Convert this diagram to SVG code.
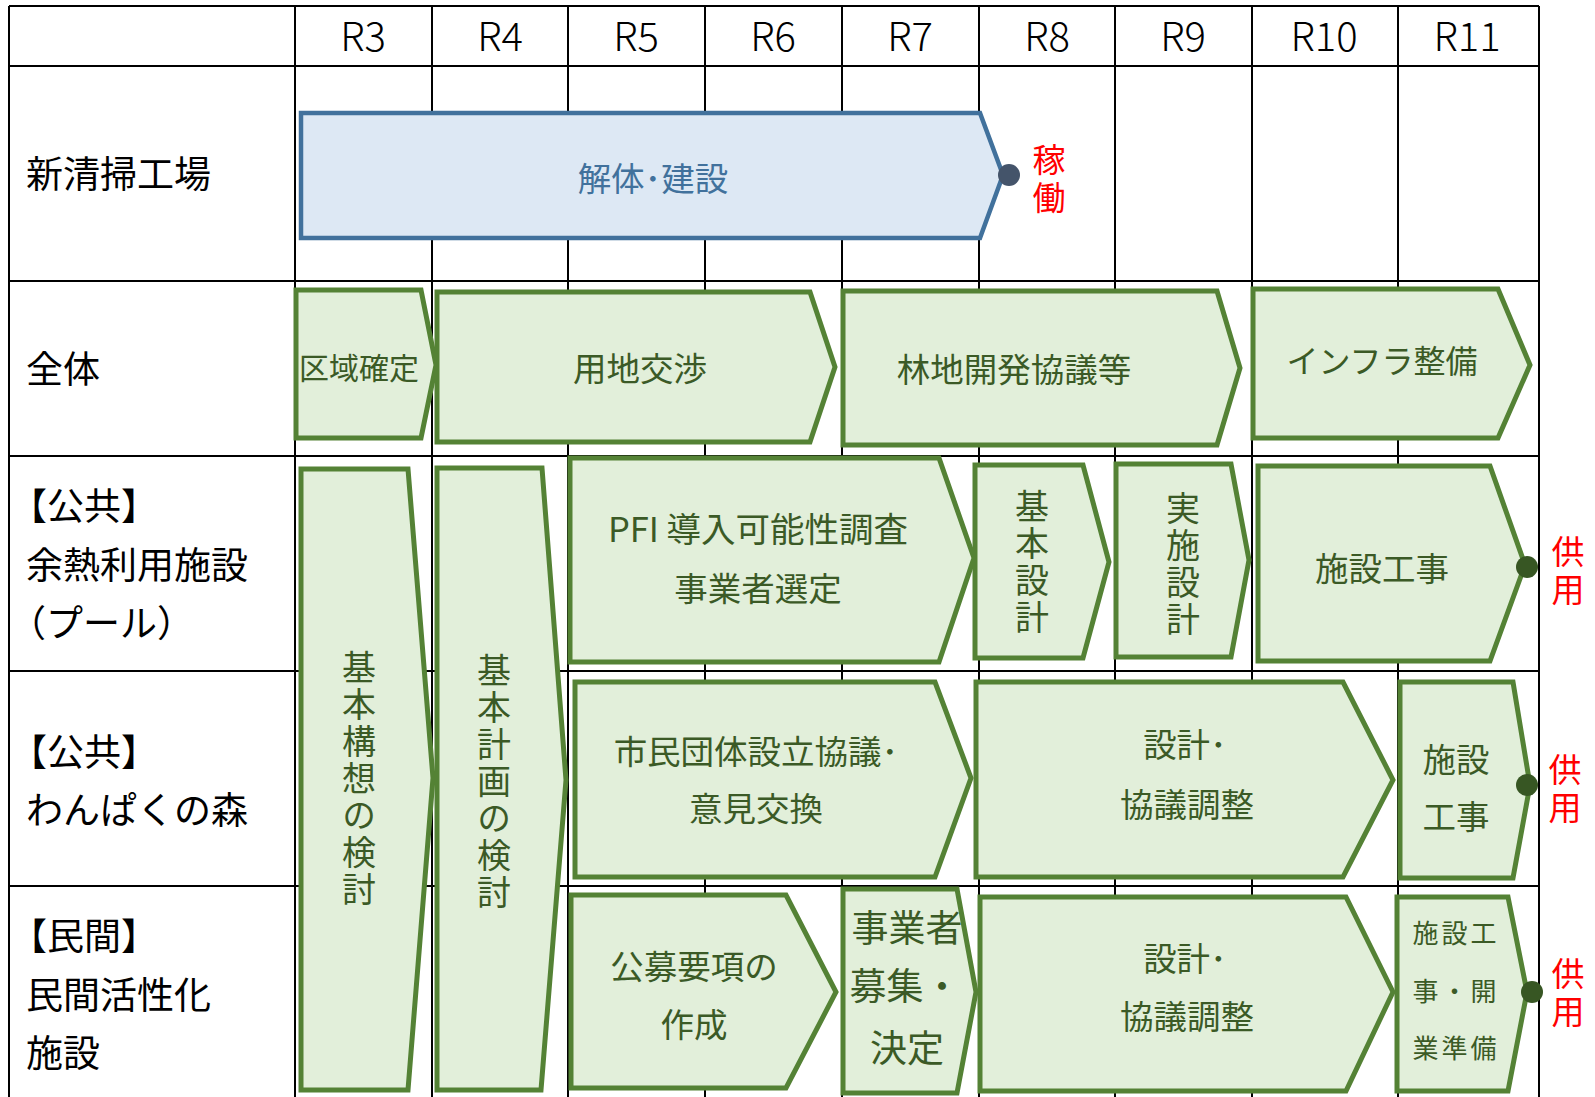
<svg xmlns="http://www.w3.org/2000/svg" width="1595" height="1097" viewBox="0 0 1595 1097">
<style>
.grid line{stroke:#000;stroke-width:2}
.g{fill:#e2efda;stroke:#548235;stroke-width:5;stroke-linejoin:miter}
.b{fill:#dde8f4;stroke:#41719c;stroke-width:4.5}
text{font-family:"Noto Sans CJK JP","Noto Sans",sans-serif}
.t{fill:#3b5a26;text-anchor:middle;dominant-baseline:central;font-size:33.5px}
.h{fill:#000;text-anchor:middle;dominant-baseline:central;font-size:40px;font-weight:300}
.l{fill:#000;dominant-baseline:central;font-size:37px}
.r{fill:#ff0000;text-anchor:middle;font-size:33px;writing-mode:vertical-rl;letter-spacing:5px}
.v{fill:#3b5a26;text-anchor:middle;font-size:34px;writing-mode:vertical-rl;letter-spacing:3px}
.dg{fill:#375623}
</style>
<rect width="1595" height="1097" fill="#fff"/>
<g class="grid" id="grid">
<line x1="9" y1="6" x2="1539" y2="6"/>
<line x1="9" y1="66" x2="1539" y2="66"/>
<line x1="9" y1="281" x2="1539" y2="281"/>
<line x1="9" y1="456" x2="1539" y2="456"/>
<line x1="9" y1="671" x2="1539" y2="671"/>
<line x1="9" y1="886" x2="1539" y2="886"/>
<line x1="9" y1="6" x2="9" y2="1097"/>
<line x1="295" y1="6" x2="295" y2="1097"/>
<line x1="432" y1="6" x2="432" y2="1097"/>
<line x1="568" y1="6" x2="568" y2="1097"/>
<line x1="705" y1="6" x2="705" y2="1097"/>
<line x1="842" y1="6" x2="842" y2="1097"/>
<line x1="979" y1="6" x2="979" y2="1097"/>
<line x1="1115" y1="6" x2="1115" y2="1097"/>
<line x1="1252" y1="6" x2="1252" y2="1097"/>
<line x1="1398" y1="6" x2="1398" y2="1097"/>
<line x1="1539" y1="6" x2="1539" y2="1097"/>
</g>
<g id="header">
<text class="h" x="363" y="34">R3</text>
<text class="h" x="500" y="34">R4</text>
<text class="h" x="636" y="34">R5</text>
<text class="h" x="773" y="34">R6</text>
<text class="h" x="910" y="34">R7</text>
<text class="h" x="1047" y="34">R8</text>
<text class="h" x="1183" y="34">R9</text>
<text class="h" x="1324" y="34">R10</text>
<text class="h" x="1467" y="34">R11</text>
</g>
<g id="row-labels">
<text class="l" x="26" y="172">新清掃工場</text>
<text class="l" x="26" y="367">全体</text>
<text class="l" x="10" y="504">【公共】</text>
<text class="l" x="26" y="563">余熱利用施設</text>
<text class="l" x="9" y="621">（プール）</text>
<text class="l" x="10" y="750">【公共】</text>
<text class="l" x="26" y="808">わんぱくの森</text>
<text class="l" x="10" y="934">【民間】</text>
<text class="l" x="26" y="993">民間活性化</text>
<text class="l" x="26" y="1051">施設</text>
</g>
<g id="n-kaitai">
<polygon class="b" points="301,113 980,113 1003,175 980,238 301,238"/>
<text class="t" x="653" y="176" style="fill:#41719c">解体･建設</text>
</g>
<g id="n-kuiki">
<polygon class="g" points="296,290 421,290 436,365 421,438 296,438"/>
<text class="t" x="359" y="366" style="font-size:30px">区域確定</text>
</g>
<g id="n-youchi">
<polygon class="g" points="437,292 810,292 835,367 810,442 437,442"/>
<text class="t" x="640" y="366">用地交渉</text>
</g>
<g id="n-rinchi">
<polygon class="g" points="843,291 1217,291 1240,368 1217,445 843,445"/>
<text class="t" x="1014" y="367">林地開発協議等</text>
</g>
<g id="n-infra">
<polygon class="g" points="1253,289 1498,289 1530,365 1498,438 1253,438"/>
<text class="t" x="1382" y="359" style="font-size:32px">インフラ整備</text>
</g>
<g id="n-kihonkousou">
<polygon class="g" points="301,469 408,469 433,778 408,1090 301,1090"/>
<text class="v" x="359" y="780">基本構想の検討</text>
</g>
<g id="n-kihonkeikaku">
<polygon class="g" points="437,468 542,468 566,780 541,1090 437,1090"/>
<text class="v" x="494" y="783">基本計画の検討</text>
</g>
<g id="n-pfi">
<polygon class="g" points="570,458 939,458 974,558 939,662 570,662"/>
<text class="t" x="758" y="527" style="font-size:34.5px">PFI 導入可能性調査</text>
<text class="t" x="758" y="586">事業者選定</text>
</g>
<g id="n-kihonsekkei">
<polygon class="g" points="975,465 1083,465 1109,562 1083,658 975,658"/>
<text class="v" x="1032" y="563">基本設計</text>
</g>
<g id="n-jissisekkei">
<polygon class="g" points="1116,464 1231,464 1249,560 1231,657 1116,657"/>
<text class="v" x="1183" y="565">実施設計</text>
</g>
<g id="n-pool-kouji">
<polygon class="g" points="1258,466 1490,466 1525,565 1490,661 1258,661"/>
<text class="t" x="1382" y="566">施設工事</text>
</g>
<g id="n-shimin">
<polygon class="g" points="575,682 935,682 971,778 935,877 575,877"/>
<text class="t" x="756" y="749">市民団体設立協議･</text>
<text class="t" x="756" y="806">意見交換</text>
</g>
<g id="n-wanpaku-sekkei">
<polygon class="g" points="976,682 1343,682 1393,780 1343,877 976,877"/>
<text class="t" x="1185" y="742">設計･</text>
<text class="t" x="1187" y="802">協議調整</text>
</g>
<g id="n-wanpaku-kouji">
<polygon class="g" points="1400,682 1513,682 1530,785 1513,878 1400,878"/>
<text class="t" x="1456" y="757">施設</text>
<text class="t" x="1456" y="814">工事</text>
</g>
<g id="n-koubo">
<polygon class="g" points="571,895 786,895 836,992 786,1088 571,1088"/>
<text class="t" x="694" y="964">公募要項の</text>
<text class="t" x="694" y="1022">作成</text>
</g>
<g id="n-jigyousha">
<polygon class="g" points="843,889 957,889 976,992 957,1093 843,1093"/>
<text class="t" x="907" y="926" style="font-size:37px">事業者</text>
<text class="t" x="905" y="984" style="font-size:37px">募集・</text>
<text class="t" x="907" y="1046" style="font-size:37px">決定</text>
</g>
<g id="n-minkan-sekkei">
<polygon class="g" points="980,897 1346,897 1393,992 1346,1091 980,1091"/>
<text class="t" x="1185" y="956">設計･</text>
<text class="t" x="1187" y="1014">協議調整</text>
</g>
<g id="n-minkan-kouji">
<polygon class="g" points="1397,897 1508,897 1527,992 1508,1091 1397,1091"/>
<text class="t" x="1456" y="931" style="font-size:26px;letter-spacing:3px">施設工</text>
<text class="t" x="1456" y="989" style="font-size:26px;letter-spacing:3px">事・開</text>
<text class="t" x="1456" y="1046" style="font-size:26px;letter-spacing:3px">業準備</text>
</g>
<g id="connectors">
<circle cx="1009" cy="175" r="11" fill="#44546a"/>
<circle class="dg" cx="1527" cy="567" r="11"/>
<circle class="dg" cx="1527" cy="785" r="11"/>
<circle class="dg" cx="1532" cy="992" r="11"/>
</g>
<g id="milestones">
<text class="r" x="1049" y="181">稼働</text>
<text class="r" x="1568" y="573">供用</text>
<text class="r" x="1565" y="791">供用</text>
<text class="r" x="1568" y="995">供用</text>
</g>
</svg>
